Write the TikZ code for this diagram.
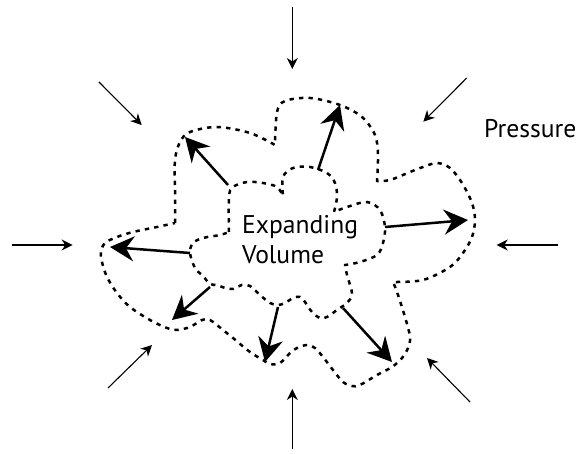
\documentclass[tikz,border=0pt]{standalone}
\usepackage{fontspec}
\setmainfont{PT Sans}
\usetikzlibrary{arrows.meta}
\begin{document}
\begin{tikzpicture}[x=1pt,y=-1pt,
  dots/.style={line width=2.5pt,dash pattern=on 4.3pt off 5.2pt,line join=round},
  push/.style={line width=2.5pt,-{Stealth[length=24pt,width=25pt,inset=8pt]}},
  press/.style={line width=1.1pt,-{Stealth[length=11pt,width=11pt,inset=3.5pt]}},
  lbl/.style={inner sep=0pt,anchor=base west,font=\fontsize{25.6}{30}\selectfont}]
\useasboundingbox (0,0) rectangle (581,454);
% outer dotted outline
\draw[dots]
  plot[smooth,tension=0.55] coordinates {(175,223) (175,190) (175,160) (180,142) (190,132) (217,127) (250,133) (275,145)}
  -- plot[smooth,tension=0.55] coordinates {(275,145) (277,112) (285,101) (310,98) (340,105) (362,117) (375,135) (378,155) (377,181)}
  -- plot[smooth,tension=0.55] coordinates {(377,181) (390,180) (410,172) (423,167) (437,163) (450,168) (462,183) (472,203) (475,220) (472,237) (463,253) (450,267) (423,280) (393,282)}
  -- plot[smooth,tension=0.55] coordinates {(393,282) (397,292) (405,317) (410,337) (408,348) (402,358) (392,367) (377,375) (360,385) (352,386) (343,382) (333,370) (323,357) (315,348) (307,345) (297,348) (290,353) (280,363) (270,364) (263,360) (250,352) (233,338) (223,330) (210,320) (202,320) (190,327) (177,330) (167,328) (150,320) (130,307) (117,293) (107,277) (102,262) (101,252) (105,243) (117,237) (133,232) (157,227) (175,223)}
  -- cycle;
% inner dotted outline
\draw[dots]
  plot[smooth,tension=0.55] coordinates {(229,232) (229,197) (233,187) (247,182) (263,183) (277,187) (283,196)}
  -- plot[smooth,tension=0.55] coordinates {(283,196) (283,177) (293,168) (310,167) (327,173) (335,183) (337,197) (334,212)}
  -- plot[smooth,tension=0.55] coordinates {(334,212) (347,207) (367,202) (380,210) (385,227) (383,243) (377,255) (360,262) (345,265)}
  -- plot[smooth,tension=0.55] coordinates {(345,265) (347,275) (350,285) (352,295) (347,303) (337,310) (327,317) (320,318) (312,312) (305,302) (300,297) (293,298) (285,303) (278,305) (270,303) (260,295) (250,286) (242,285) (233,289) (225,288) (217,285) (210,284) (203,276) (195,268) (190,253) (193,243) (203,238) (220,235) (229,232)}
  -- cycle;
% labels
\node[lbl] (exp) at (242,234) {Expanding};
\node[lbl] (vol) at (242,263.5) {Volume};
\node[lbl] (pres) at (484,137.3) {Pressure};
% expansion arrows
\coordinate (a1s) at (228,185); \coordinate (a1e) at (185,137);
\coordinate (a2s) at (318,170); \coordinate (a2e) at (340,105);
\coordinate (a3s) at (385,227); \coordinate (a3e) at (468,220);
\coordinate (a4s) at (190,253); \coordinate (a4e) at (110,247);
\coordinate (a5s) at (210,287); \coordinate (a5e) at (172,320);
\coordinate (a6s) at (278,307); \coordinate (a6e) at (265,362);
\coordinate (a7s) at (343,308); \coordinate (a7e) at (392,362);
\foreach \i in {1,...,7} {\draw[push] (a\i s) -- (a\i e);}
% pressure arrows
\coordinate (p1s) at (292.3,7);   \coordinate (p1e) at (292.3,69);
\coordinate (p2s) at (466.7,78);  \coordinate (p2e) at (423.3,121.7);
\coordinate (p3s) at (558.3,245); \coordinate (p3e) at (496.7,245);
\coordinate (p4s) at (470,402);   \coordinate (p4e) at (427,358);
\coordinate (p5s) at (292.3,449); \coordinate (p5e) at (292.3,389);
\coordinate (p6s) at (108,388);   \coordinate (p6e) at (152,345);
\coordinate (p7s) at (11.7,245);  \coordinate (p7e) at (72.7,245);
\coordinate (p8s) at (99,82);     \coordinate (p8e) at (141.7,125);
\foreach \i in {1,...,8} {\draw[press] (p\i s) -- (p\i e);}
\end{tikzpicture}
\end{document}
